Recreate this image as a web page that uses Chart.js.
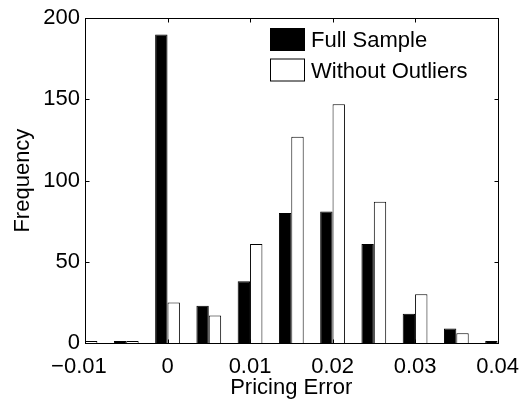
<!DOCTYPE html>
<html lang="en">
<head>
    <meta charset="UTF-8">
    <title>Pricing Error Histogram</title>
    <script src="https://cdn.jsdelivr.net/npm/chart.js"></script>
    <style>
        html, body { margin: 0; padding: 0; background: #fff; }
        #wrap { width: 530px; height: 402px; }
    </style>
</head>
<body>
    <div id="wrap"><canvas id="histChart" width="530" height="402"></canvas></div>

    <script>
        // bin centres and counts
        const binCenters = [-0.01, -0.005, 0, 0.005, 0.01, 0.015, 0.02, 0.025, 0.03, 0.035, 0.04];
        const fullSample = [0, 0, 190, 23, 38, 80, 81, 61, 18, 9, 0];
        const withoutOutliers = [0, 0, 25, 17, 61, 127, 147, 87, 30, 6, 0];
        const seriesNames = ['Full Sample', 'Without Outliers'];
        const xTicks = [-0.01, 0, 0.01, 0.02, 0.03, 0.04];
        const yTicks = [0, 50, 100, 150, 200];

        const FONT = '"Liberation Sans", Arial, Helvetica, sans-serif';
        Chart.defaults.font.family = FONT;
        Chart.defaults.font.size = 22;
        Chart.defaults.color = '#000';

        // matlab keeps the digits centred on the tick and lets the minus hang left
        function fmtX(v) {
            let r = Math.round(v * 100) / 100;
            if (r === 0) return '0';
            let s = Math.abs(r).toFixed(2);
            return r < 0 ? '\u2212' + s + '\u2007' : s;
        }

        // frame + inward ticks like the original figure
        const frameTicks = {
            id: 'frameTicks',
            afterDraw(chart) {
                let ctx = chart.ctx;
                let a = chart.chartArea;
                let xs = chart.scales.x, ys = chart.scales.y;
                let L = Math.round(a.left) + 0.5, R = Math.round(a.right) + 0.5;
                let T = Math.round(a.top) + 0.5, B = Math.round(a.bottom) + 0.5;
                ctx.save();
                ctx.strokeStyle = '#000';
                ctx.lineWidth = 1;
                ctx.strokeRect(L, T, R - L, B - T);
                ctx.beginPath();
                xTicks.forEach(v => {
                    let px = Math.round(xs.getPixelForValue(v)) + 0.5;
                    ctx.moveTo(px, B); ctx.lineTo(px, B - 4);
                    ctx.moveTo(px, T); ctx.lineTo(px, T + 4);
                });
                yTicks.forEach(v => {
                    let py = Math.round(ys.getPixelForValue(v)) + 0.5;
                    ctx.moveTo(L, py); ctx.lineTo(L + 4, py);
                    ctx.moveTo(R, py); ctx.lineTo(R - 4, py);
                });
                ctx.stroke();
                ctx.restore();
            }
        };

        // legend inside the axes, top right
        const insideLegend = {
            id: 'insideLegend',
            afterDraw(chart) {
                let ctx = chart.ctx;
                let x0 = 270, y0 = 39, rowGap = 30.5;
                ctx.save();
                ctx.font = '22px ' + FONT;
                ctx.textBaseline = 'alphabetic';
                chart.data.datasets.forEach((ds, i) => {
                    let cy = y0 + i * rowGap;
                    ctx.fillStyle = ds.backgroundColor;
                    ctx.fillRect(x0, cy - 11, 35, 23);
                    ctx.strokeStyle = '#000';
                    ctx.lineWidth = 1;
                    ctx.strokeRect(x0 + 0.5, cy - 11 + 0.5, 34, 22);
                    ctx.fillStyle = '#000';
                    ctx.fillText(ds.label, x0 + 41, cy + 8);
                });
                ctx.restore();
            }
        };

        let ctx = document.getElementById('histChart').getContext('2d');
        let chart = new Chart(ctx, {
            type: 'bar',
            data: {
                datasets: [{
                    label: seriesNames[0],
                    data: binCenters.map((x, i) => ({ x: x, y: fullSample[i] })),
                    backgroundColor: '#000',
                    borderColor: '#000',
                    borderWidth: 1
                }, {
                    label: seriesNames[1],
                    data: binCenters.map((x, i) => ({ x: x, y: withoutOutliers[i] })),
                    backgroundColor: '#fff',
                    borderColor: '#000',
                    borderWidth: 1
                }]
            },
            options: {
                responsive: false,
                animation: false,
                categoryPercentage: 0.6,
                barPercentage: 1.0,
                minBarLength: 2,
                layout: { padding: { left: 0, right: 24, top: 13, bottom: 0 } },
                plugins: {
                    legend: { display: false },
                    tooltip: { enabled: false }
                },
                scales: {
                    x: {
                        type: 'linear',
                        min: -0.01,
                        max: 0.04,
                        offset: false,
                        grid: { display: false, drawTicks: false, offset: false },
                        border: { display: false },
                        afterBuildTicks(scale) {
                            scale.ticks = xTicks.map(v => ({ value: v }));
                        },
                        ticks: {
                            padding: 11,
                            maxRotation: 0,
                            autoSkip: false,
                            callback: v => fmtX(v)
                        },
                        title: {
                            display: true,
                            text: 'Pricing Error',
                            padding: { top: 0, bottom: 1 }
                        },
                        afterFit(scale) { scale.height = 59; }
                    },
                    y: {
                        min: 0,
                        max: 200,
                        grid: { display: false, drawTicks: false },
                        border: { display: false },
                        afterBuildTicks(scale) {
                            scale.ticks = yTicks.map(v => ({ value: v }));
                        },
                        ticks: { padding: 5 },
                        title: {
                            display: true,
                            text: 'Frequency',
                            padding: { top: 10, bottom: 0 }
                        },
                        afterFit(scale) { scale.width = 85; }
                    }
                }
            },
            plugins: [frameTicks, insideLegend]
        });
    </script>
</body>
</html>
